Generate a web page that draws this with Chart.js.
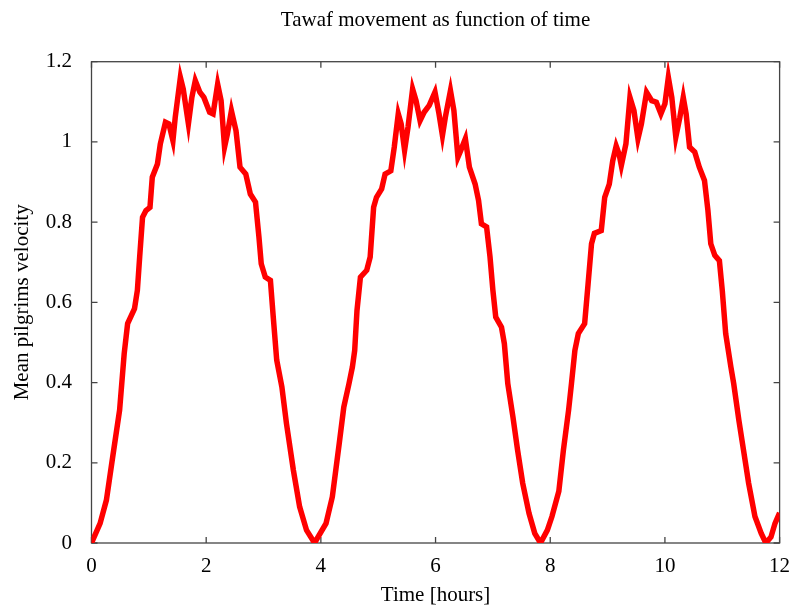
<!DOCTYPE html>
<html>
<head>
<meta charset="utf-8">
<title>Tawaf movement</title>
<script src="https://cdn.jsdelivr.net/npm/chart.js@4.4.1/dist/chart.umd.min.js"></script>
<style>
  html, body { margin: 0; padding: 0; background: #fff; }
  #wrap { width: 801px; height: 609px; }
</style>
</head>
<body>
<div id="wrap"><canvas id="tawafChart" width="801" height="609"></canvas></div>
<script>
// datos (tiempo en horas, velocidad media)
const timeHours = [
  0, 0.15, 0.26, 0.37, 0.49, 0.57, 0.63, 0.75, 0.8, 0.84, 0.89, 0.95, 1.02, 1.06, 1.15, 1.2,
  1.29, 1.35, 1.42, 1.46, 1.55, 1.6, 1.69, 1.75, 1.81, 1.89, 1.96, 2.06, 2.12, 2.2, 2.26, 2.32,
  2.37, 2.44, 2.52, 2.59, 2.69, 2.77, 2.86, 2.92, 2.96, 3.03, 3.12, 3.17, 3.23, 3.32, 3.4, 3.52,
  3.63, 3.75, 3.89,
  4.09, 4.2, 4.32, 4.4, 4.49, 4.55, 4.59, 4.63, 4.69, 4.8, 4.86, 4.92, 4.97, 5.06, 5.12, 5.22,
  5.28, 5.35, 5.4, 5.46, 5.52, 5.6, 5.66, 5.73, 5.8, 5.89, 5.99, 6.06, 6.12, 6.17, 6.26, 6.32,
  6.39, 6.44, 6.52, 6.59, 6.69, 6.75, 6.8, 6.89, 6.95, 7.0, 7.05, 7.15, 7.2, 7.26, 7.35, 7.43,
  7.52, 7.63, 7.73, 7.83,
  7.95, 8.03, 8.15, 8.23, 8.32, 8.37, 8.43, 8.49, 8.6, 8.66, 8.72, 8.77, 8.89, 8.95, 9.03, 9.09,
  9.15, 9.2, 9.24, 9.32, 9.39, 9.46, 9.53, 9.59, 9.68, 9.77, 9.85, 9.93, 10.0, 10.06, 10.12, 10.19,
  10.26, 10.32, 10.37, 10.43, 10.52, 10.6, 10.69, 10.75, 10.8, 10.87, 10.95, 11.0, 11.06, 11.15,
  11.2, 11.29, 11.37, 11.46, 11.57, 11.68, 11.76, 11.85, 11.92, 12
];
const meanVelocity = [
  0, 0.049, 0.107, 0.215, 0.331, 0.472, 0.547, 0.584, 0.63, 0.713, 0.812, 0.829, 0.837, 0.912, 0.945, 0.995,
  1.049, 1.045, 1.003, 1.061, 1.161, 1.132, 1.045, 1.111, 1.153, 1.124, 1.111, 1.074, 1.07, 1.144, 1.103, 0.987,
  1.02, 1.078, 1.028, 0.937, 0.92, 0.87, 0.85, 0.763, 0.696, 0.663, 0.655, 0.563, 0.456, 0.389, 0.298, 0.182,
  0.09, 0.032, 0,
  0.049, 0.115, 0.248, 0.339, 0.397, 0.439, 0.48, 0.58, 0.663, 0.68, 0.713, 0.837, 0.862, 0.883, 0.92, 0.928,
  0.987, 1.07, 1.045, 0.979, 1.037, 1.132, 1.103, 1.053, 1.074, 1.091, 1.124, 1.07, 1.016, 1.061, 1.128, 1.078,
  0.962, 0.979, 1.008, 0.937, 0.895, 0.854, 0.796, 0.788, 0.713, 0.63, 0.563, 0.538, 0.497, 0.397, 0.314, 0.232,
  0.149, 0.074, 0.024, 0,
  0.032, 0.066, 0.129, 0.232, 0.331, 0.397, 0.48, 0.522, 0.547, 0.646, 0.746, 0.772, 0.779, 0.862, 0.895, 0.953,
  0.99, 0.97, 0.941, 0.995, 1.111, 1.078, 1.008, 1.045, 1.124, 1.103, 1.099, 1.07, 1.095, 1.161, 1.111, 1.012,
  1.061, 1.111, 1.07, 0.987, 0.975, 0.937, 0.904, 0.829, 0.746, 0.717, 0.704, 0.63, 0.522, 0.439,
  0.397, 0.306, 0.232, 0.149, 0.066, 0.024, 0, 0.015, 0.049, 0.075
];

// etiquetas de los ejes
const xTickLabels = ["0", "2", "4", "6", "8", "10", "12"];
const yTickLabels = ["0", "0.2", "0.4", "0.6", "0.8", "1", "1.2"];

const serif = "'Liberation Serif', 'Times New Roman', serif";

// marco tipo gnuplot con ticks hacia dentro (en los 4 lados)
const framePlugin = {
  id: "frame",
  beforeDatasetsDraw(chart) {
    const { ctx, chartArea: a, scales } = chart;
    const tick = 6;
    ctx.save();
    ctx.strokeStyle = "#444";
    ctx.lineWidth = 1.3;
    ctx.strokeRect(a.left, a.top, a.right - a.left, a.bottom - a.top);
    ctx.beginPath();
    xTickLabels.forEach((lab, i) => {
      const px = scales.x.getPixelForValue(i * 2);
      ctx.moveTo(px, a.bottom); ctx.lineTo(px, a.bottom - tick);
      ctx.moveTo(px, a.top); ctx.lineTo(px, a.top + tick);
    });
    yTickLabels.forEach((lab, i) => {
      const py = scales.y.getPixelForValue(i * 0.2);
      ctx.moveTo(a.left, py); ctx.lineTo(a.left + tick, py);
      ctx.moveTo(a.right, py); ctx.lineTo(a.right - tick, py);
    });
    ctx.stroke();
    ctx.restore();
  }
};

const points = timeHours.map((t, i) => ({ x: t, y: meanVelocity[i] }));

new Chart(document.getElementById("tawafChart"), {
  type: "line",
  data: {
    datasets: [{
      data: points,
      borderColor: "#ff0000",
      borderWidth: 5.5,
      pointRadius: 0,
      tension: 0,
      fill: false
    }]
  },
  options: {
    responsive: false,
    animation: false,
    devicePixelRatio: 1,
    layout: { padding: { left: 0, right: 9.5, top: 0, bottom: 0 } },
    plugins: {
      legend: { display: false },
      tooltip: { enabled: false },
      title: {
        display: true,
        fullSize: false, // centrado sobre el area del grafico
        text: "Tawaf movement as function of time",
        color: "#000",
        font: { family: serif, size: 21, weight: "normal" },
        padding: { top: 8.3, bottom: 28.2 }
      }
    },
    scales: {
      x: {
        type: "linear",
        min: 0,
        max: 12,
        grid: { display: false, drawTicks: false },
        border: { display: false },
        ticks: {
          stepSize: 2,
          maxRotation: 0,
          color: "#000",
          padding: 10.9,
          font: { family: serif, size: 21 },
          callback: (v) => xTickLabels[Math.round(v / 2)]
        },
        title: {
          display: true,
          text: "Time [hours]",
          color: "#000",
          font: { family: serif, size: 21 },
          padding: { top: 0, bottom: 0.5 }
        },
        afterFit: (s) => { s.height = 66; }
      },
      y: {
        min: 0,
        max: 1.2,
        grid: { display: false, drawTicks: false },
        border: { display: false },
        ticks: {
          stepSize: 0.2,
          color: "#000",
          padding: 19.5,
          font: { family: serif, size: 21 },
          callback: (v) => yTickLabels[Math.round(v / 0.2)]
        },
        title: {
          display: true,
          text: "Mean pilgrims velocity",
          color: "#000",
          font: { family: serif, size: 21 },
          padding: { top: 10.3, bottom: 0 }
        },
        afterFit: (s) => { s.width = 91.5; }
      }
    }
  },
  plugins: [framePlugin]
});
</script>
</body>
</html>
